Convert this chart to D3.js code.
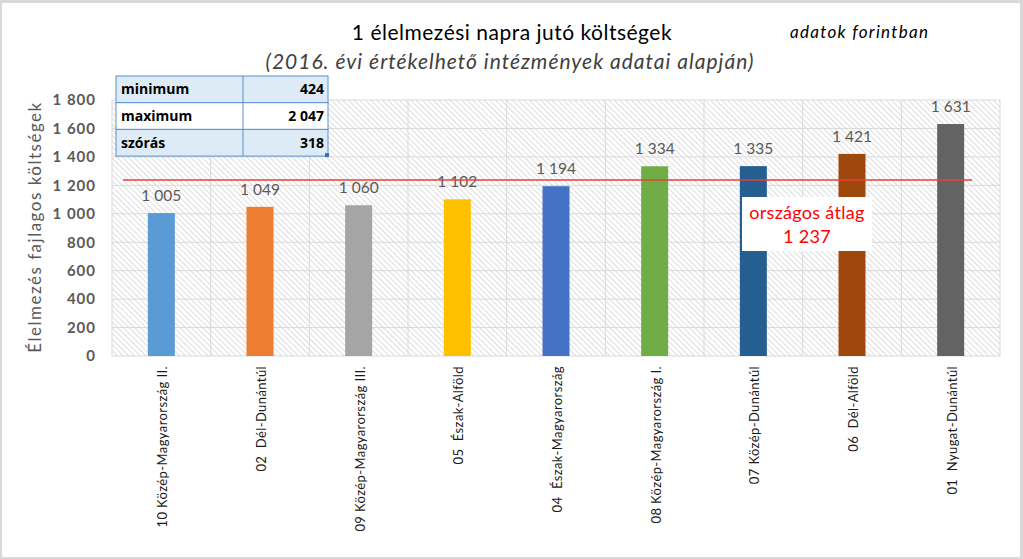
<!DOCTYPE html>
<html>
<head>
<meta charset="utf-8">
<script src="https://cdnjs.cloudflare.com/ajax/libs/d3/7.8.5/d3.min.js"></script>
<style>
  html, body { margin: 0; padding: 0; background: #d9d9d9; }
  svg { display: block; font-family: Lato, "Open Sans", sans-serif; }
</style>
</head>
<body>
<svg id="chart" width="1023" height="559"></svg>
<script>
// regions, ordered as on the chart
const regions = [
  '10 Közép-Magyarország II.',
  '02  Dél-Dunántúl',
  '09 Közép-Magyarország III.',
  '05  Észak-Alföld',
  '04  Észak-Magyarország',
  '08 Közép-Magyarország I.',
  '07 Közép-Dunántúl',
  '06  Dél-Alföld',
  '01  Nyugat-Dunántúl'
];
const costs = [1005, 1049, 1060, 1102, 1194, 1334, 1335, 1421, 1631];
const barColors = ['#5b9bd5', '#ed7d31', '#a5a5a5', '#ffc000', '#4472c4', '#70ad47', '#255e91', '#9e480e', '#636363'];
const yTicks = [0, 200, 400, 600, 800, 1000, 1200, 1400, 1600, 1800];
const nationalAvg = 1237;
const statNames = ['minimum', 'maximum', 'szórás'];
const statValues = [424, 2047, 318];

const huFormat = d3.formatLocale({ decimal: ',', thousands: ' ', grouping: [3], currency: ['', ' Ft'] }).format(',d');

const svg = d3.select('#chart');

// chart background
svg.append('rect')
  .attr('x', 2).attr('y', 3)
  .attr('width', 1018).attr('height', 554)
  .attr('fill', '#fff');

const margin = { left: 112, right: 1000, top: 100, bottom: 356 };

const x = d3.scaleBand()
  .domain(regions)
  .range([margin.left, margin.right])
  .paddingInner(0)
  .paddingOuter(0);

const y = d3.scaleLinear()
  .domain([0, 1800])
  .range([margin.bottom, margin.top]);

// hatch pattern
const defs = svg.append('defs');
const pat = defs.append('pattern')
  .attr('id', 'hatch')
  .attr('patternUnits', 'userSpaceOnUse')
  .attr('width', 4).attr('height', 4)
  .attr('patternTransform', 'rotate(45)');
pat.append('rect').attr('width', 4).attr('height', 4).attr('fill', '#fff');
pat.append('line')
  .attr('x1', 0).attr('y1', 0).attr('x2', 4).attr('y2', 0)
  .attr('stroke', '#d2d2d2').attr('stroke-width', 1.5);

svg.append('rect')
  .attr('x', margin.left).attr('y', margin.top)
  .attr('width', margin.right - margin.left)
  .attr('height', margin.bottom - margin.top)
  .attr('fill', 'url(#hatch)');

// horizontal gridlines
svg.append('g')
  .selectAll('line')
  .data(yTicks)
  .join('line')
  .attr('x1', margin.left).attr('x2', margin.right)
  .attr('y1', d => y(d)).attr('y2', d => y(d))
  .attr('stroke', '#d9d9d9').attr('stroke-width', 1);

// vertical gridlines at category boundaries
const bounds = regions.map(r => x(r)).concat([margin.right]);
svg.append('g')
  .selectAll('line')
  .data(bounds)
  .join('line')
  .attr('x1', d => d).attr('x2', d => d)
  .attr('y1', margin.top).attr('y2', margin.bottom)
  .attr('stroke', '#d9d9d9').attr('stroke-width', 1);

// y axis
const yAxis = d3.axisLeft(y)
  .tickValues(yTicks)
  .tickSize(0)
  .tickPadding(16)
  .tickFormat(huFormat);

const ya = svg.append('g')
  .attr('transform', 'translate(' + margin.left + ',0)')
  .call(yAxis);
ya.select('.domain').remove();
ya.selectAll('text')
  .attr('font-family', 'Lato, sans-serif')
  .attr('font-size', 15)
  .attr('font-weight', 'bold')
  .attr('letter-spacing', 1)
  .attr('fill', '#595959');

svg.append('text')
  .attr('transform', 'translate(41,227) rotate(-90)')
  .attr('text-anchor', 'middle')
  .attr('font-size', 17)
  .attr('letter-spacing', 1.5)
  .attr('fill', '#595959')
  .text('Élelmezés fajlagos költségek');

// bars
const barW = 27;
const data = regions.map((r, i) => ({ region: r, value: costs[i], color: barColors[i] }));

svg.append('g')
  .selectAll('rect')
  .data(data)
  .join('rect')
  .attr('x', d => x(d.region) + x.bandwidth() / 2 - barW / 2)
  .attr('y', d => y(d.value))
  .attr('width', barW)
  .attr('height', d => y(0) - y(d.value))
  .attr('fill', d => d.color);

// data labels
svg.append('g')
  .selectAll('text')
  .data(data)
  .join('text')
  .attr('x', d => x(d.region) + x.bandwidth() / 2)
  .attr('y', d => y(d.value) - 12)
  .attr('text-anchor', 'middle')
  .attr('font-size', 15.5)
  .attr('fill', '#595959')
  .text(d => huFormat(d.value));

// x labels
svg.append('g')
  .selectAll('text')
  .data(regions)
  .join('text')
  .attr('transform', d => 'translate(' + (x(d) + x.bandwidth() / 2 + 6) + ',366) rotate(-90)')
  .attr('text-anchor', 'end')
  .attr('font-size', 13)
  .attr('letter-spacing', 0.4)
  .attr('fill', '#1a1a1a')
  .text(d => d)
  .style('white-space', 'pre');

// national average line
svg.append('line')
  .attr('x1', 123).attr('x2', 972)
  .attr('y1', y(nationalAvg)).attr('y2', y(nationalAvg))
  .attr('stroke', '#e8403a').attr('stroke-width', 1.5);

const avgBox = svg.append('g');
avgBox.append('rect')
  .attr('x', 742).attr('y', 197)
  .attr('width', 130).attr('height', 54)
  .attr('fill', '#fff');
avgBox.append('text')
  .attr('x', 807).attr('y', 219)
  .attr('text-anchor', 'middle')
  .attr('font-size', 18)
  .attr('letter-spacing', 0.3)
  .attr('fill', '#ff0000')
  .text('országos átlag');
avgBox.append('text')
  .attr('x', 807).attr('y', 243)
  .attr('text-anchor', 'middle')
  .attr('font-size', 18)
  .attr('letter-spacing', 0.3)
  .attr('fill', '#ff0000')
  .text(huFormat(nationalAvg));

// titles
svg.append('text')
  .attr('x', 512).attr('y', 40)
  .attr('text-anchor', 'middle')
  .attr('font-size', 21)
  .attr('letter-spacing', 0.5)
  .attr('fill', '#000')
  .text('1 élelmezési napra jutó költségek');

svg.append('text')
  .attr('x', 510).attr('y', 69)
  .attr('text-anchor', 'middle')
  .attr('font-size', 21)
  .attr('letter-spacing', 1)
  .attr('font-style', 'italic')
  .attr('fill', '#404040')
  .text('(2016. évi értékelhető intézmények adatai alapján)');

svg.append('text')
  .attr('x', 790).attr('y', 38)
  .attr('font-size', 17)
  .attr('letter-spacing', 1.3)
  .attr('font-style', 'italic')
  .attr('fill', '#000')
  .text('adatok forintban');

// stats table
const tX = 116, tY = 76, rowH = 26.7, c1 = 127, c2 = 85;
const table = svg.append('g');
const rows = table.selectAll('g')
  .data(statNames.map((n, i) => ({ name: n, value: statValues[i], i: i })))
  .join('g')
  .attr('transform', d => 'translate(' + tX + ',' + (tY + d.i * rowH) + ')');

rows.append('rect')
  .attr('width', c1 + c2).attr('height', rowH)
  .attr('fill', d => d.i === 1 ? '#ffffff' : '#ddebf7')
  .attr('stroke', '#5b8fd0').attr('stroke-width', 1);
rows.append('line')
  .attr('x1', c1).attr('x2', c1)
  .attr('y1', 0).attr('y2', rowH)
  .attr('stroke', '#5b8fd0');
rows.append('text')
  .attr('x', 5).attr('y', rowH / 2 + 5)
  .attr('font-family', '"Open Sans", sans-serif')
  .attr('font-size', 14)
  .attr('font-weight', 'bold')
  .attr('fill', '#000')
  .text(d => d.name);
rows.append('text')
  .attr('x', c1 + c2 - 4).attr('y', rowH / 2 + 5)
  .attr('text-anchor', 'end')
  .attr('font-family', '"Open Sans", sans-serif')
  .attr('font-size', 14)
  .attr('font-weight', 'bold')
  .attr('fill', '#000')
  .text(d => huFormat(d.value));

table.append('rect')
  .attr('x', tX + c1 + c2 - 3).attr('y', tY + 3 * rowH - 3)
  .attr('width', 4).attr('height', 4)
  .attr('fill', '#3c6fc4');
</script>
</body>
</html>
